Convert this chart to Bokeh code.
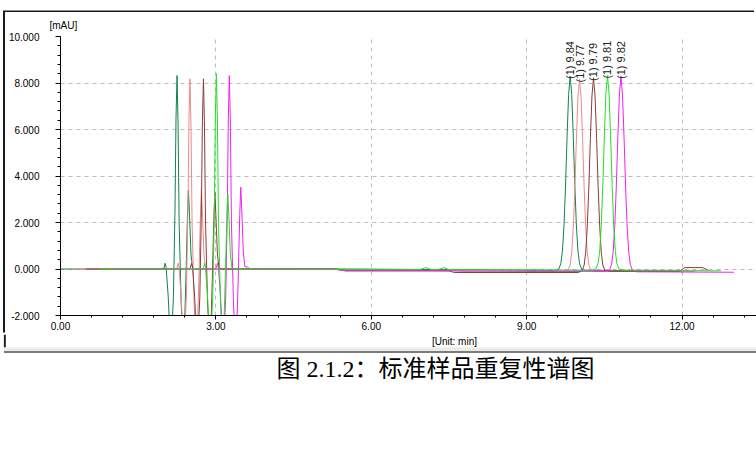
import math
from bokeh.plotting import figure
from bokeh.models import (Range1d, SingleIntervalTicker, NumeralTickFormatter, Label, Title,
                          ColumnDataSource)
from bokeh.core.properties import value
from bokeh.embed import file_html
from bokeh.resources import INLINE

# ---------------- data ----------------
# retention time axis [min], signal [mAU]
t_dg = [0.00, 1.95, 2.00, 2.02, 2.04, 2.08, 2.13, 2.18, 2.21, 2.23, 2.25, 2.27, 2.29, 2.33, 2.38,
        2.42, 2.45, 2.47, 2.49, 2.52, 2.55, 2.60, 5.30, 7.50, 9.00,
        9.54, 9.62, 9.66, 9.69, 9.72, 9.75, 9.78, 9.81, 9.84, 9.87, 9.90, 9.93, 9.96, 9.99, 10.02,
        10.06, 10.14, 11.95, 12.00]
y_dg = [0.00, 0.00, 0.05, 0.25, 0.05, -1.2, -3.6, -1.2, 2.5, 6.5, 8.32, 6.2, 2.0, -1.5, -3.6,
        -0.5, 2.2, 3.38, 2.4, 0.6, 0.05, 0.00, 0.00, -0.03, -0.05,
        -0.06, 0.00, 0.24, 0.78, 1.85, 3.57, 5.69, 7.51, 8.30, 7.51, 5.69, 3.57, 1.85, 0.78, 0.24,
        0.00, -0.06, -0.06, -0.15]

t_pk = [0.25, 2.20, 2.25, 2.27, 2.29, 2.33, 2.38, 2.43, 2.46, 2.48, 2.50, 2.52, 2.54, 2.58, 2.63,
        2.67, 2.70, 2.72, 2.74, 2.77, 2.80, 2.85, 5.30, 5.50, 7.50, 8.00,
        9.72, 9.80, 9.84, 9.87, 9.90, 9.93, 9.96, 9.99, 10.02, 10.05, 10.08, 10.11, 10.14, 10.17,
        10.20, 10.24, 10.32, 12.25]
y_pk = [0.00, 0.00, 0.05, 0.25, 0.05, -1.2, -3.6, -1.2, 2.5, 6.4, 8.18, 6.1, 2.0, -1.5, -3.6,
        -0.5, 2.2, 3.45, 2.4, 0.6, 0.05, 0.00, -0.02, -0.07, -0.07, -0.12,
        -0.12, -0.06, 0.18, 0.72, 1.78, 3.48, 5.58, 7.38, 8.15, 7.38, 5.58, 3.48, 1.78, 0.72,
        0.18, -0.06, -0.10, -0.10]

t_br = [0.50, 2.46, 2.51, 2.53, 2.55, 2.59, 2.64, 2.69, 2.72, 2.74, 2.76, 2.78, 2.80, 2.84, 2.89,
        2.93, 2.96, 2.98, 3.00, 3.03, 3.06, 3.11, 5.30, 5.50, 7.50, 7.60,
        9.99, 10.07, 10.11, 10.14, 10.17, 10.20, 10.23, 10.26, 10.29, 10.32, 10.35, 10.38, 10.41,
        10.44, 10.47, 10.51, 10.59, 11.95, 12.05, 12.40, 12.50]
y_br = [0.00, 0.00, 0.05, 0.25, 0.05, -1.2, -3.6, -1.2, 2.5, 6.4, 8.18, 6.1, 2.0, -1.5, -3.6,
        -0.5, 2.1, 3.30, 2.3, 0.6, 0.05, 0.00, 0.00, -0.08, -0.08, -0.15,
        -0.15, -0.08, 0.17, 0.73, 1.82, 3.52, 5.62, 7.44, 8.22, 7.44, 5.62, 3.52, 1.82,
        0.73, 0.17, -0.06, -0.10, -0.10, 0.06, 0.06, -0.05]

t_gr = [0.75, 2.71, 2.76, 2.78, 2.80, 2.84, 2.89, 2.94, 2.97, 2.99, 3.01, 3.03, 3.05, 3.09, 3.14,
        3.18, 3.21, 3.23, 3.25, 3.28, 3.31, 3.36, 6.95, 7.05, 7.15, 7.30, 7.40, 7.50, 9.00,
        10.26, 10.34, 10.38, 10.41, 10.44, 10.47, 10.50, 10.53, 10.56, 10.59, 10.62, 10.65, 10.68,
        10.71, 10.74, 10.78, 10.86, 12.75]
y_gr = [0.00, 0.00, 0.05, 0.25, 0.05, -1.2, -3.6, -1.2, 2.5, 6.6, 8.40, 6.3, 2.0, -1.5, -3.6,
        -0.5, 2.1, 3.23, 2.3, 0.6, 0.05, 0.00, -0.02, 0.06, -0.02, -0.02, 0.06, -0.03, -0.04,
        -0.05, 0.01, 0.25, 0.79, 1.87, 3.60, 5.74, 7.57, 8.32, 7.57, 5.74, 3.60, 1.87,
        0.79, 0.25, 0.01, -0.05, -0.08]

t_mg = [1.00, 2.96, 3.01, 3.03, 3.05, 3.09, 3.14, 3.19, 3.22, 3.24, 3.26, 3.28, 3.30, 3.34, 3.39,
        3.43, 3.46, 3.48, 3.50, 3.53, 3.56, 3.61, 3.66, 5.30, 5.50, 7.00, 9.00,
        10.52, 10.60, 10.64, 10.67, 10.70, 10.73, 10.76, 10.79, 10.82, 10.85, 10.88, 10.91, 10.94,
        10.97, 11.00, 11.04, 11.12, 13.00]
y_mg = [0.00, 0.00, 0.05, 0.25, 0.05, -1.2, -3.6, -1.2, 2.5, 6.5, 8.32, 6.2, 2.0, -1.5, -3.6,
        -0.5, 2.3, 3.52, 2.5, 0.7, 0.10, 0.08, 0.00, 0.00, -0.07, -0.07, -0.10,
        -0.10, -0.04, 0.20, 0.74, 1.81, 3.53, 5.65, 7.48, 8.30, 7.48, 5.65, 3.53, 1.81,
        0.74, 0.20, -0.04, -0.12, -0.14]

t_bl = [9.00, 10.05]
y_bl = [-0.09, -0.09]

# peak annotations
peak_x = [9.84, 10.02, 10.29, 10.56, 10.82]
peak_y = [8.30, 8.15, 8.22, 8.32, 8.30]
peak_text = ["(1) 9.84", "(1) 9.77", "(1) 9.79", "(1) 9.81", "(1) 9.82"]

y_unit = "[mAU]"
x_unit = "[Unit: min]"
caption = "图 2.1.2：标准样品重复性谱图"

colors = {"blue": "#2a46e8", "dg": "#12824a", "pk": "#ef8a8a", "br": "#8b3c3c",
          "mg": "#f020f0", "gr": "#22e022"}

FONT = "Liberation Sans"

# ---------------- main chromatogram ----------------
p = figure(width=751, height=322, output_backend="svg", toolbar_location=None,
           x_range=Range1d(0, 13.437), y_range=Range1d(-2, 10),
           min_border_left=54, min_border_right=0, min_border_top=24, min_border_bottom=19,
           background_fill_color="white", border_fill_color="white")
p.styles = {"position": "absolute", "left": "5px", "top": "12px",
            "box-shadow": "-2px -1.5px 0 0 #1a1a1a"}
p.outline_line_color = None

xt = SingleIntervalTicker(interval=3, num_minor_ticks=5)
yt = SingleIntervalTicker(interval=2, num_minor_ticks=5)
p.xaxis.ticker = xt
p.yaxis.ticker = yt
p.xgrid.ticker = xt
p.ygrid.ticker = yt
p.xaxis.formatter = NumeralTickFormatter(format="0.00")
p.yaxis.formatter = NumeralTickFormatter(format="0.000")
p.grid.grid_line_color = "#bcbcbc"
p.grid.grid_line_dash = "4 4"
p.grid.grid_line_width = 1

for ax in (p.xaxis[0], p.yaxis[0]):
    ax.axis_line_color = "black"
    ax.major_tick_line_color = "black"
    ax.minor_tick_line_color = "black"
    ax.major_tick_in = 0
    ax.minor_tick_in = 0
    ax.major_label_text_font = FONT
    ax.major_label_text_font_size = "10px"
    ax.major_label_text_color = "black"
p.xaxis.major_tick_out = 4
p.xaxis.minor_tick_out = 2
p.xaxis.major_label_standoff = 2
p.yaxis.major_tick_out = 5
p.yaxis.minor_tick_out = 3
p.yaxis.major_label_standoff = 16

p.add_layout(Title(text=y_unit, align="left", offset=-11, vertical_align="middle", standoff=10,
                   text_font=FONT, text_font_size="10px", text_font_style="normal",
                   text_color="black"), "above")

# traces
p.line(t_bl, y_bl, line_color=colors["blue"], line_width=1)
p.line(t_dg, y_dg, line_color=colors["dg"], line_width=1)
p.line(t_pk, y_pk, line_color=colors["pk"], line_width=1)
p.line(t_br, y_br, line_color=colors["br"], line_width=1)
p.line(t_mg, y_mg, line_color=colors["mg"], line_width=1)
p.line(t_gr, y_gr, line_color=colors["gr"], line_width=1)

src = ColumnDataSource(dict(x=peak_x, y=peak_y, text=peak_text))
p.text(x="x", y="y", text="text", source=src, angle=math.pi / 2, text_align="left",
       text_baseline="middle", text_font=value(FONT), text_font_size="11px",
       text_color="#202020", y_offset=3)

# ---------------- strip below: axis unit, window edge, caption ----------------
q = figure(width=753, height=58, output_backend="svg", toolbar_location=None,
           x_range=Range1d(0, 753), y_range=Range1d(58, 0),
           x_axis_type=None, y_axis_type=None,
           min_border_left=0, min_border_right=0, min_border_top=0, min_border_bottom=0,
           background_fill_color="white", border_fill_color="white")
q.styles = {"position": "absolute", "left": "3px", "top": "334px"}
q.outline_line_color = None
q.grid.visible = False
q.quad(left=[0.3], right=[2.3], top=[0], bottom=[13], fill_color="#1a1a1a", line_color=None)
q.quad(left=[0.3], right=[753], top=[13], bottom=[16.5], fill_color="#ecebe6", line_color=None)
q.quad(left=[0.3], right=[753], top=[16.5], bottom=[18.5], fill_color="#7c7c7c", line_color=None)
q.add_layout(Label(x=451, y=7, text=x_unit, text_align="center", text_baseline="middle",
                   text_font=FONT, text_font_size="10px", text_color="black"))
q.add_layout(Label(x=432, y=34.5, text=caption, text_align="center", text_baseline="middle",
                   text_font="Liberation Serif, Noto Sans CJK SC", text_font_size="24px",
                   text_color="black"))

open("out.html", "w").write(file_html((p, q), INLINE))
